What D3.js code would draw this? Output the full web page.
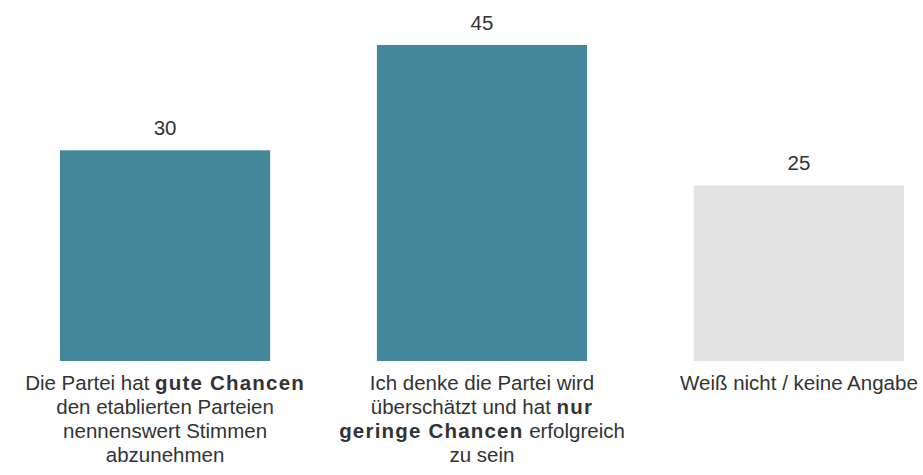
<!DOCTYPE html>
<html>
<head>
<meta charset="utf-8">
<script src="https://cdn.jsdelivr.net/npm/d3@7"></script>
<style>
  html, body { margin: 0; padding: 0; background: #fff; }
  svg { display: block; font-family: "Liberation Sans", Arial, Helvetica, sans-serif; }
</style>
</head>
<body>
<svg id="chart" width="923" height="475"></svg>
<script>
// Survey answers and their shares in percent
const categories = ["gute Chancen", "nur geringe Chancen", "Weiß nicht"];
const values = [30, 45, 25];
const barColors = ["#44879b", "#44879b", "#e3e3e3"];

// Category labels, one entry per line; **text** is set in bold
const labelLines = [
  ["Die Partei hat **gute Chancen**", "den etablierten Parteien", "nennenswert Stimmen", "abzunehmen"],
  ["Ich denke die Partei wird", "überschätzt und hat **nur**", "**geringe Chancen** erfolgreich", "zu sein"],
  ["Weiß nicht / keine Angabe"]
];

const svg = d3.select("#chart");

const x = d3.scaleBand()
  .domain(categories)
  .range([60, 904])
  .paddingInner(0.3368)
  .paddingOuter(0);

const y = d3.scaleLinear()
  .domain([0, 45])
  .range([361, 45]);

const rows = categories.map((c, i) => ({ cat: c, value: values[i], color: barColors[i], lines: labelLines[i] }));

// Bars
svg.append("g").selectAll("rect")
  .data(rows)
  .join("rect")
  .attr("x", d => x(d.cat))
  .attr("y", d => y(d.value))
  .attr("width", x.bandwidth())
  .attr("height", d => y(0) - y(d.value))
  .attr("fill", d => d.color);

// Value labels above bars
svg.append("g").selectAll("text")
  .data(rows)
  .join("text")
  .attr("x", d => x(d.cat) + x.bandwidth() / 2)
  .attr("y", d => y(d.value) - 15)
  .attr("text-anchor", "middle")
  .attr("font-size", 20.5)
  .attr("fill", "#333")
  .text(d => d.value);

// Category labels below bars, with bold fragments
const lineHeight = 24;
const firstBaseline = y(0) + 29;
const labels = svg.append("g").selectAll("text")
  .data(rows)
  .join("text")
  .attr("text-anchor", "middle")
  .attr("font-size", 20.5)
  .attr("fill", "#333");

labels.each(function(d) {
  const t = d3.select(this);
  const cx = x(d.cat) + x.bandwidth() / 2;
  d.lines.forEach((line, li) => {
    const parts = line.split("**");
    const lineText = t.append("tspan")
      .attr("x", cx)
      .attr("y", firstBaseline + li * lineHeight);
    parts.forEach((p, pi) => {
      if (!p) return;
      const s = lineText.append("tspan").text(p);
      if (pi % 2 === 1) {
        s.attr("font-weight", "bold").attr("letter-spacing", "1.2px");
      }
    });
  });
});
</script>
</body>
</html>
